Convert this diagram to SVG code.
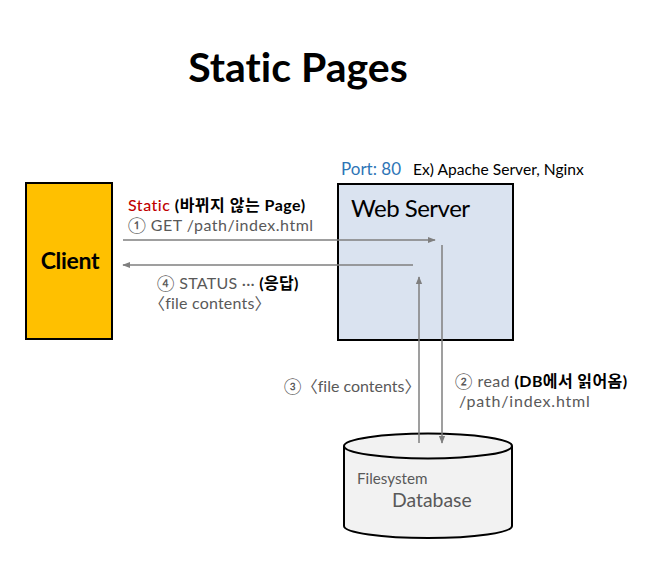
<svg xmlns="http://www.w3.org/2000/svg" width="648" height="580" viewBox="0 0 648 580">
<defs>
<style>
text{font-family:"Lato","Noto Sans CJK KR",sans-serif;font-variant-ligatures:none;font-feature-settings:"liga" 0;}
.g{fill:#595959;font-size:16px;}
.b{fill:#000;font-weight:bold;}
.ln{stroke:#7f7f7f;stroke-width:1.5;fill:none;}
</style>
<marker id="ah2" viewBox="0 0 10 10" refX="9" refY="5" markerWidth="8" markerHeight="8" orient="auto" markerUnits="userSpaceOnUse">
<path d="M0,1 L10,5 L0,9 z" fill="#7f7f7f"/>
</marker>
</defs>
<rect width="648" height="580" fill="#fff"/>
<text x="298" y="82" text-anchor="middle" font-size="41" font-weight="bold" fill="#000">Static Pages</text>
<g id="client">
<rect x="26" y="183" width="86" height="156" fill="#FFC000" stroke="#000" stroke-width="2"/>
<text x="70" y="269" text-anchor="middle" font-size="23" font-weight="bold" fill="#000" letter-spacing="-0.3">Client</text>
</g>
<g id="webserver">
<text x="341" y="175" font-size="17" fill="#2E75B6">Port: 80</text>
<text x="413" y="175" font-size="15.6" fill="#000">Ex) Apache Server, Nginx</text>
<rect x="338" y="184" width="175" height="156" fill="#DAE3F0" stroke="#000" stroke-width="2"/>
<text x="351" y="217" font-size="24" fill="#000" letter-spacing="-0.5">Web Server</text>
</g>
<g id="database">
<path d="M344,446 L344,526 A84,12 0 0 0 512,526 L512,446" fill="#F2F2F2" stroke="#000" stroke-width="2"/>
<ellipse cx="428" cy="446" rx="84" ry="12.5" fill="#F2F2F2" stroke="#000" stroke-width="2"/>
<text x="357" y="484" font-size="15.2" fill="#595959">Filesystem</text>
<text x="392" y="507" font-size="19.4" fill="#595959">Database</text>
</g>
<g id="connectors">
<line class="ln" x1="123" y1="240" x2="435" y2="240" marker-end="url(#ah2)"/>
<line class="ln" x1="413" y1="265" x2="123" y2="265" marker-end="url(#ah2)"/>
<line class="ln" x1="442" y1="245" x2="442" y2="443" marker-end="url(#ah2)"/>
<line class="ln" x1="419" y1="443" x2="419" y2="277" marker-end="url(#ah2)"/>
</g>
<g id="labels">
<text x="128" y="211" font-size="16" letter-spacing="0.5"><tspan fill="#C00000" font-weight="500">Static</tspan><tspan class="b"> (바뀌지 않는 Page)</tspan></text>
<text class="g" x="128" y="231" letter-spacing="0.5">① GET /path/index.html</text>
<text class="g" x="157" y="289" letter-spacing="0.25">④ STATUS ··· <tspan class="b">(응답)</tspan></text>
<text class="g" x="149" y="309" letter-spacing="0.2">〈file contents〉</text>
<text class="g" x="284" y="392">③〈file contents〉</text>
<text class="g" x="455" y="387" letter-spacing="0.4">② read <tspan class="b">(DB에서 읽어옴)</tspan></text>
<text class="g" x="459" y="407" letter-spacing="0.8">/path/index.html</text>
</g>
</svg>
